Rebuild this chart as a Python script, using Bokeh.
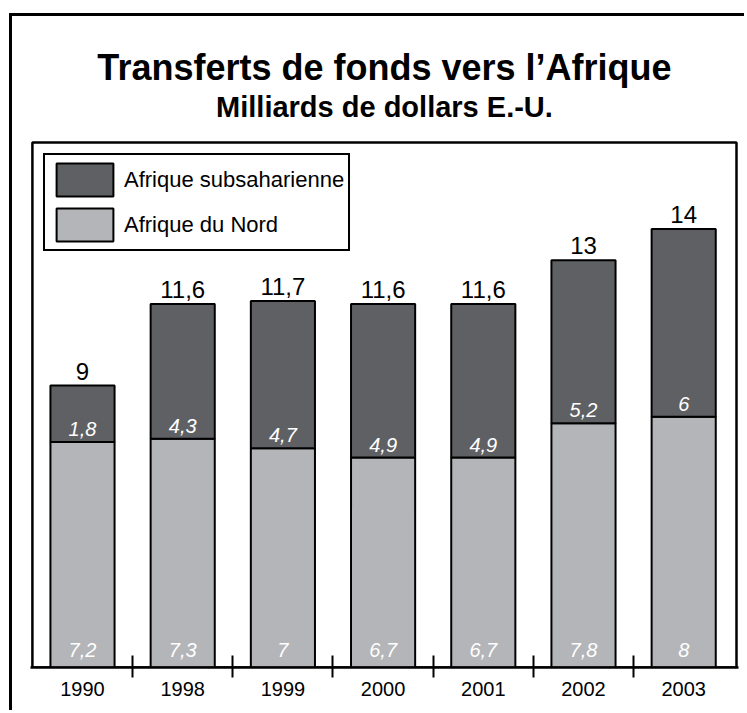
from bokeh.plotting import figure
from bokeh.models import (ColumnDataSource, Range1d, FixedTicker, Legend, LegendItem)
from bokeh.core.properties import value
from bokeh.embed import file_html
from bokeh.resources import INLINE

# ---- data ----
years = ["1990", "1998", "1999", "2000", "2001", "2002", "2003"]
nord = [7.2, 7.3, 7.0, 6.7, 6.7, 7.8, 8.0]
subsah = [1.8, 4.3, 4.7, 4.9, 4.9, 5.2, 6.0]
nord_labels = ["7,2", "7,3", "7", "6,7", "6,7", "7,8", "8"]
sub_labels = ["1,8", "4,3", "4,7", "4,9", "4,9", "5,2", "6"]
total_labels = ["9", "11,6", "11,7", "11,6", "11,6", "13", "14"]
series_names = ["Afrique subsaharienne", "Afrique du Nord"]
title_text = "Transferts de fonds vers l\u2019Afrique"
subtitle_text = "Milliards de dollars E.-U."

FONT = "Liberation Sans"
DARK = "#5f6064"
LIGHT = "#b3b5b8"

# ---- layout constants (data units of the plot box) ----
X0, X1 = -0.519, 6.547          # x range
BOX_L, BOX_R = -0.5, 6.527      # inner plot box sides
Y_END = 20.78                   # y range end (frame reaches the canvas top)
BOX_T = 16.757                  # inner plot box top
XC = (BOX_L + BOX_R) / 2

idx = list(range(len(years)))
src = ColumnDataSource(dict(
    x=idx,
    nord=nord,
    total=[n + s for n, s in zip(nord, subsah)],
    nl=nord_labels,
    sl=sub_labels,
    tl=total_labels,
    zero=[0] * len(years),
))

p = figure(width=735, height=697,
           x_range=Range1d(X0, X1), y_range=Range1d(0, Y_END),
           output_backend="svg", toolbar_location=None, y_axis_location=None,
           min_border_left=18, min_border_right=9, min_border_top=0,
           min_border_bottom=46)
p.margin = (13, 0, 0, 9)
p.styles = {"border-top": "3px solid black", "border-left": "3px solid black"}
p.grid.grid_line_color = None
p.outline_line_color = None
p.background_fill_color = "white"
p.border_fill_color = "white"

# inner plot box
p.quad(left=[BOX_L], right=[BOX_R], bottom=[0], top=[BOX_T],
       fill_color=None, line_color="black", line_width=2.5)

# titles
p.text(x=[XC], y=[19.15], text=[title_text], text_align="center",
       text_baseline="alphabetic", text_font=value(FONT),
       text_font_style="bold", text_font_size="36px", text_color="black")
p.text(x=[XC], y=[17.906], text=[subtitle_text], text_align="center",
       text_baseline="alphabetic", text_font=value(FONT),
       text_font_style="bold", text_font_size="29px", text_color="black")

# bars
r_n = p.vbar(x="x", width=0.64, bottom=0, top="nord", source=src,
             fill_color=LIGHT, line_color="black", line_width=2)
r_s = p.vbar(x="x", width=0.64, bottom="nord", top="total", source=src,
             fill_color=DARK, line_color="black", line_width=2)

# value labels
p.text(x="x", y="total", text="tl", source=src, text_align="center",
       text_baseline="bottom", y_offset=-6, text_font=value(FONT),
       text_font_size="24px", text_color="black")
p.text(x="x", y="nord", text="sl", source=src, text_align="center",
       text_baseline="bottom", y_offset=-6, text_font=value(FONT),
       text_font_style="italic", text_font_size="20px", text_color="white")
p.text(x="x", y="zero", text="nl", source=src, text_align="center",
       text_baseline="bottom", y_offset=-11, text_font=value(FONT),
       text_font_style="italic", text_font_size="20px", text_color="white")

# x axis: year labels at bar centres, separator ticks between them
xa = p.xaxis[0]
xa.ticker = FixedTicker(ticks=idx, minor_ticks=[i + 0.5 for i in idx[:-1]])
xa.major_label_overrides = {i: y for i, y in zip(idx, years)}
xa.axis_line_width = 2.5
xa.axis_line_color = "black"
xa.major_tick_line_color = None
xa.major_tick_in = 0
xa.major_tick_out = 0
xa.minor_tick_line_color = "black"
xa.minor_tick_line_width = 2
xa.minor_tick_in = 12
xa.minor_tick_out = 10
xa.major_label_text_font = FONT
xa.major_label_text_font_size = "20px"
xa.major_label_text_color = "black"
xa.major_label_standoff = 4

legend = Legend(items=[LegendItem(label=series_names[0], renderers=[r_s]),
                       LegendItem(label=series_names[1], renderers=[r_n])],
                location=(13, 416), orientation="vertical",
                glyph_width=71, glyph_height=41, padding=4, spacing=4,
                label_standoff=4, label_text_font=FONT,
                label_text_font_size="22px", label_text_color="black",
                border_line_color="black", border_line_width=2,
                border_line_alpha=1.0, background_fill_alpha=1.0, margin=0)
p.add_layout(legend)

open("out.html", "w").write(file_html(p, INLINE))
